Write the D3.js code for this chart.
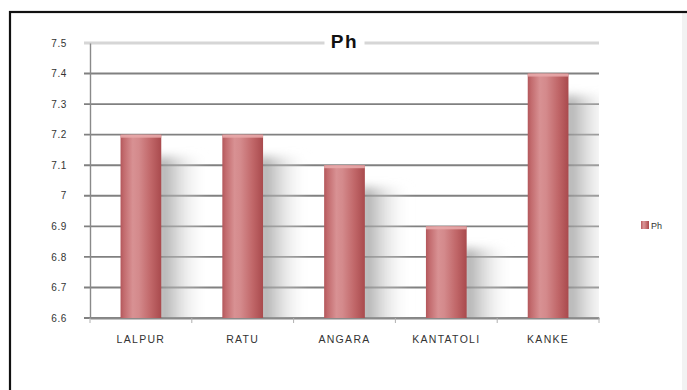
<!DOCTYPE html>
<html>
<head>
<meta charset="utf-8">
<script src="https://cdn.jsdelivr.net/npm/d3@7"></script>
<style>
  html, body { margin: 0; padding: 0; background: #fff; }
  svg { display: block; }
</style>
</head>
<body>
<svg id="chart" width="687" height="390"></svg>
<script>
// pH readings by sampling site
const categories = ["LALPUR", "RATU", "ANGARA", "KANTATOLI", "KANKE"];
const phValues = [7.2, 7.2, 7.1, 6.9, 7.4];
const yTicks = [6.6, 6.7, 6.8, 6.9, 7, 7.1, 7.2, 7.3, 7.4, 7.5];
const seriesName = "Ph";

const FONT = "Liberation Sans, Arial, sans-serif";
const svg = d3.select("#chart");
const defs = svg.append("defs");

// chart frame (the box runs past the right and bottom edges)
svg.append("rect").attr("x", 682).attr("y", 12).attr("width", 10).attr("height", 400)
  .attr("fill", "#f2f2f2");
svg.append("rect").attr("x", 10).attr("y", 12).attr("width", 700).attr("height", 420)
  .attr("fill", "none").attr("stroke", "#111").attr("stroke-width", 2.2);

const margin = { left: 90, right: 599, top: 43, bottom: 318 };

const x = d3.scaleBand().domain(categories).range([margin.left, margin.right]).paddingInner(0.6).paddingOuter(0.3);
const y = d3.scaleLinear().domain([6.6, 7.5]).range([margin.bottom, margin.top]);

// gradients
const barGrad = defs.append("linearGradient").attr("id", "barGrad").attr("x1", 0).attr("x2", 1).attr("y1", 0).attr("y2", 0);
[[0, "#b3575b"], [0.08, "#c26a6d"], [0.3, "#d89193"], [0.45, "#d48a8c"], [0.75, "#c06668"], [1, "#a94a4d"]]
  .forEach(([o, c]) => barGrad.append("stop").attr("offset", o).attr("stop-color", c));

const shadowGrad = defs.append("linearGradient").attr("id", "shadowGrad").attr("x1", 0).attr("x2", 1).attr("y1", 0).attr("y2", 0);
[[0, "#8f8f8f", 0.85], [0.35, "#b5b5b5", 0.6], [1, "#ffffff", 0]]
  .forEach(([o, c, a]) => shadowGrad.append("stop").attr("offset", o).attr("stop-color", c).attr("stop-opacity", a));

const blur = defs.append("filter").attr("id", "soft").attr("x", "-50%").attr("y", "-50%").attr("width", "200%").attr("height", "200%");
blur.append("feGaussianBlur").attr("stdDeviation", 5);

// gridlines
const grid = svg.append("g");
yTicks.forEach(t => {
  const top = t === 7.5;
  grid.append("line")
    .attr("x1", margin.left - 6).attr("x2", margin.right)
    .attr("y1", y(t)).attr("y2", y(t))
    .attr("stroke", top ? "#d6d6d6" : "#808080")
    .attr("stroke-width", top ? 3 : 1.9);
});

// bar shadows
const shadowClip = defs.append("clipPath").attr("id", "plotClip");
shadowClip.append("rect").attr("x", margin.left).attr("y", margin.top).attr("width", margin.right - margin.left).attr("height", margin.bottom - margin.top);

const shadows = svg.append("g").attr("clip-path", "url(#plotClip)");
categories.forEach((c, i) => {
  const bx = x(c) + x.bandwidth();
  const top = y(phValues[i]) + 22;
  shadows.append("rect")
    .attr("x", bx - 4).attr("y", top)
    .attr("width", 50).attr("height", margin.bottom - top + 10)
    .attr("fill", "url(#shadowGrad)")
    .attr("filter", "url(#soft)");
});

// axes
const yAxis = d3.axisLeft(y).tickValues(yTicks).tickSize(0).tickPadding(23)
  .tickFormat(d => d3.format("")(+d.toFixed(1)));
const gy = svg.append("g").attr("transform", `translate(${margin.left},0)`).call(yAxis);
gy.select(".domain").attr("stroke", "#8a8a8a").attr("stroke-width", 1.4);
gy.selectAll("text").attr("font-family", FONT).attr("font-size", 10)
  .attr("letter-spacing", 0.6).attr("fill", "#333");

const xAxis = d3.axisBottom(x).tickSize(0).tickPadding(18);
const gx = svg.append("g").attr("transform", `translate(0,${margin.bottom})`).call(xAxis);
gx.select(".domain").attr("stroke", "#8a8a8a").attr("stroke-width", 1.8);
gx.selectAll("text").attr("font-family", FONT).attr("font-size", 10.5)
  .attr("letter-spacing", 1.3).attr("fill", "#333");

// small boundary ticks between categories
const step = (margin.right - margin.left) / categories.length;
d3.range(categories.length + 1).forEach(k => {
  svg.append("line")
    .attr("x1", margin.left + k * step).attr("x2", margin.left + k * step)
    .attr("y1", margin.bottom).attr("y2", margin.bottom + 5)
    .attr("stroke", "#b0b0b0").attr("stroke-width", 1);
});

// bars
const bars = svg.append("g");
categories.forEach((c, i) => {
  const v = phValues[i];
  bars.append("rect")
    .attr("x", x(c)).attr("y", y(v))
    .attr("width", x.bandwidth()).attr("height", y(6.6) - y(v))
    .attr("fill", "url(#barGrad)");
  bars.append("rect")
    .attr("x", x(c)).attr("y", y(v))
    .attr("width", x.bandwidth()).attr("height", 3)
    .attr("fill", "#e8a9aa").attr("opacity", 0.9);
});

// title
const titleX = (margin.left + margin.right) / 2;
svg.append("rect").attr("x", titleX - 20).attr("y", 30).attr("width", 40).attr("height", 22).attr("fill", "#fff");
svg.append("text").attr("x", titleX).attr("y", 48).attr("text-anchor", "middle")
  .attr("font-family", FONT).attr("font-weight", "bold").attr("font-size", 19)
  .attr("letter-spacing", 1.5)
  .attr("fill", "#111").text(seriesName);

// legend
const leg = svg.append("g").attr("transform", "translate(641,221)");
leg.append("rect").attr("width", 8).attr("height", 8).attr("fill", "url(#barGrad)");
leg.append("text").attr("x", 10).attr("y", 7.5)
  .attr("font-family", FONT).attr("font-size", 9).attr("fill", "#333")
  .text(seriesName);
</script>
</body>
</html>
